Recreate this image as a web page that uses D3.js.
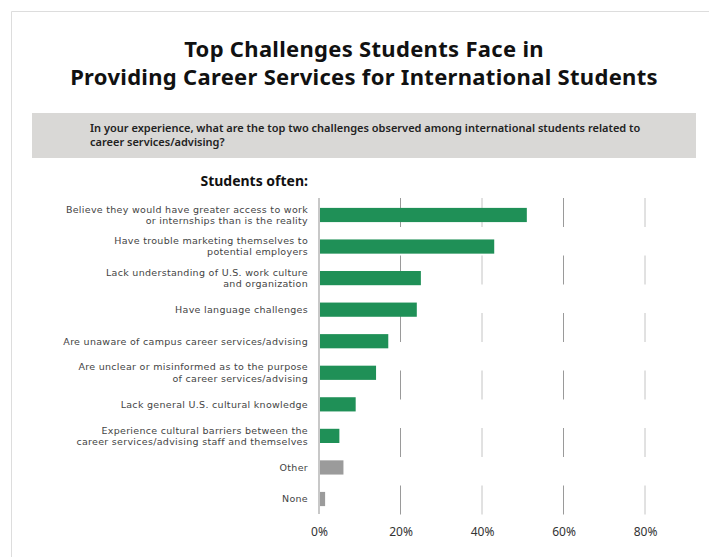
<!DOCTYPE html>
<html>
<head>
<meta charset="utf-8">
<script src="https://cdn.jsdelivr.net/npm/d3@7"></script>
<style>
  body { margin: 0; background: #fff; }
</style>
</head>
<body>
<div id="chart"></div>
<script>
// Chart data
var categories = [
    ["Believe they would have greater access to work", "or internships than is the reality"],
    ["Have trouble marketing themselves to", "potential employers"],
    ["Lack understanding of U.S. work culture", "and organization"],
    ["Have language challenges"],
    ["Are unaware of campus career services/advising"],
    ["Are unclear or misinformed as to the purpose", "of career services/advising"],
    ["Lack general U.S. cultural knowledge"],
    ["Experience cultural barriers between the", "career services/advising staff and themselves"],
    ["Other"],
    ["None"]
];
var values = [51, 43, 25, 24, 17, 14, 9, 5, 6, 1.5];
var isOther = [false, false, false, false, false, false, false, false, true, true];
var ticks = [0, 20, 40, 60, 80];

var svgWidth = 709;
var svgHeight = 557;
var sans = "\"Noto Sans\", sans-serif";
var wide = "\"DejaVu Sans\", sans-serif";

var svg = d3.select("#chart")
    .append("svg")
    .attr("width", svgWidth)
    .attr("height", svgHeight)
    .style("font-family", sans);

// outer frame
svg.append("path")
    .attr("d", "M11.5,557 V11.5 H709")
    .attr("fill", "none")
    .attr("stroke", "#dddddd")
    .attr("stroke-width", 1);

// title
var title = svg.append("text")
    .attr("text-anchor", "middle")
    .attr("font-weight", "bold")
    .attr("font-size", "22px")
    .attr("letter-spacing", "0.3px")
    .attr("fill", "#111");
title.append("tspan").attr("x", 364).attr("y", 57).text("Top Challenges Students Face in");
title.append("tspan").attr("x", 364).attr("y", 85).text("Providing Career Services for International Students");

// question box
svg.append("rect")
    .attr("x", 32).attr("y", 113)
    .attr("width", 664).attr("height", 45)
    .attr("fill", "#d9d8d6");

var question = svg.append("text")
    .attr("font-size", "11px")
    .attr("font-weight", 600)
    .attr("fill", "#222");
question.append("tspan").attr("x", 90).attr("y", 132)
    .text("In your experience, what are the top two challenges observed among international students related to");
question.append("tspan").attr("x", 90).attr("y", 146)
    .text("career services/advising?");

svg.append("text")
    .attr("x", 308).attr("y", 186)
    .attr("text-anchor", "end")
    .attr("font-weight", "bold")
    .attr("font-size", "14px")
    .attr("fill", "#111")
    .text("Students often:");

// scales
var x = d3.scaleLinear()
    .domain([0, 80])
    .range([319, 645]);

var y = d3.scaleBand()
    .domain(d3.range(categories.length))
    .range([200, 514])
    .paddingInner(0.55)
    .paddingOuter(0.25);

// gridlines (broken segments)
svg.append("g")
    .selectAll("line")
    .data(ticks.slice(1))
    .enter()
    .append("line")
    .attr("x1", d => x(d))
    .attr("x2", d => x(d))
    .attr("y1", 198)
    .attr("y2", 515)
    .attr("stroke", d => d % 40 == 0 ? "#c4c4c4" : "#9a9a9a")
    .attr("stroke-width", 1)
    .attr("stroke-dasharray", "29 28.5");

// bars
svg.append("g")
    .selectAll("rect")
    .data(values)
    .enter()
    .append("rect")
    .attr("x", x(0) + 1)
    .attr("y", (d, i) => y(i))
    .attr("width", d => x(d) - x(0) - 1)
    .attr("height", y.bandwidth())
    .attr("fill", (d, i) => isOther[i] ? "#9b9b9b" : "#1f9057");

// baseline
svg.append("line")
    .attr("x1", x(0)).attr("x2", x(0))
    .attr("y1", 198).attr("y2", 514)
    .attr("stroke", "#c8c8c8")
    .attr("stroke-width", 2);

// category labels
var labels = svg.append("g")
    .selectAll("text")
    .data(categories)
    .enter()
    .append("text")
    .attr("text-anchor", "end")
    .style("font-family", wide)
    .attr("font-size", "9.5px")
    .attr("letter-spacing", "0.3px")
    .attr("fill", "#444");

labels.each(function (lines, i) {
    var cy = y(i) + y.bandwidth() / 2;
    var lh = 11.2;
    var top = cy - (lines.length - 1) * lh / 2 + 3.3;
    var t = d3.select(this);
    lines.forEach(function (l, j) {
        t.append("tspan")
            .attr("x", 308)
            .attr("y", top + j * lh)
            .text(l);
    });
});

// x axis labels
var xAxis = d3.axisBottom(x)
    .tickValues(ticks)
    .tickFormat(d => d + "%")
    .tickSize(0)
    .tickPadding(0);

var axisG = svg.append("g")
    .attr("transform", "translate(0, 527)")
    .call(xAxis);
axisG.select(".domain").remove();
axisG.selectAll("text")
    .attr("font-size", "12px")
    .attr("fill", "#333")
    .style("font-family", sans);
</script>
</body>
</html>
